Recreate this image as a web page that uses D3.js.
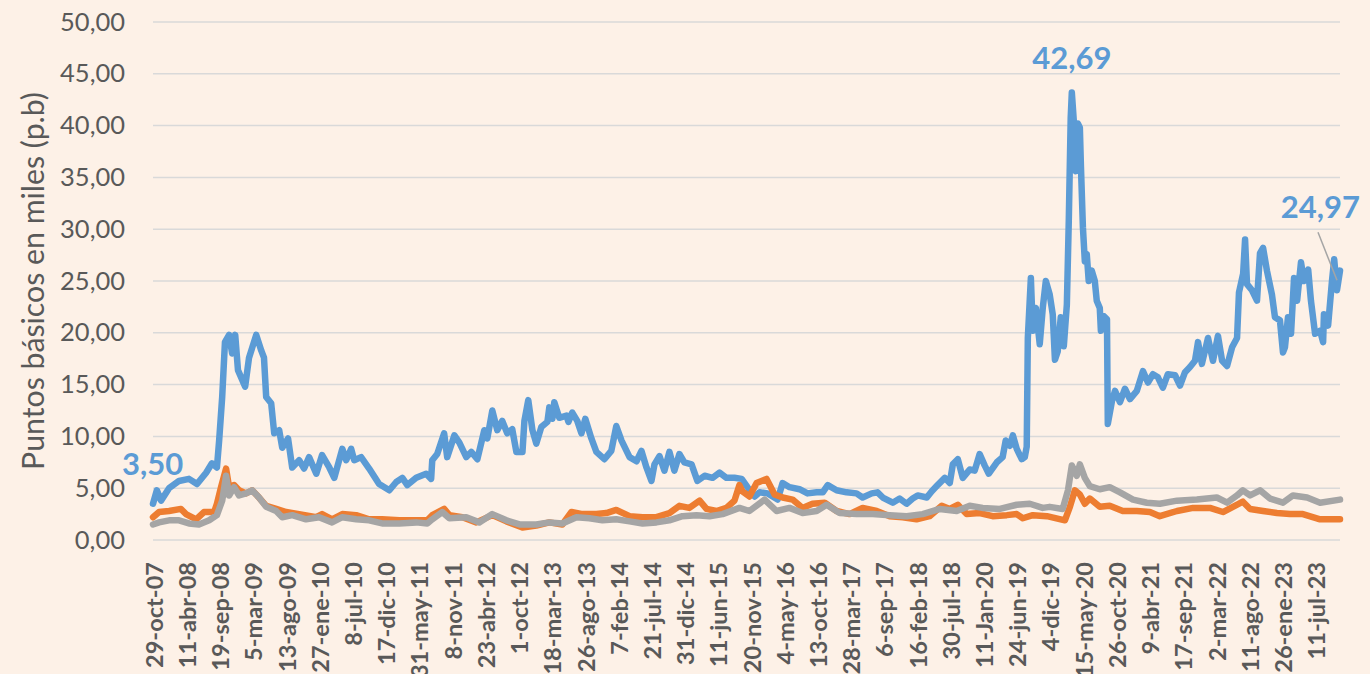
<!DOCTYPE html>
<html>
<head>
<meta charset="utf-8">
<script src="https://cdn.jsdelivr.net/npm/d3@7"></script>
<style>
  html, body { margin: 0; padding: 0; background: #fdf1e7; }
  #app { width: 1370px; height: 674px; }
  text { font-family: Lato, "Liberation Sans", sans-serif; }
</style>
</head>
<body>
<div id="app"></div>
<script>
// etiquetas del eje X (una cada 120 observaciones)
const tickLabels = [
  '29-oct-07', '11-abr-08', '19-sep-08', '5-mar-09', '13-ago-09', '27-ene-10',
  '8-jul-10', '17-dic-10', '31-may-11', '8-nov-11', '23-abr-12', '1-oct-12',
  '18-mar-13', '26-ago-13', '7-feb-14', '21-jul-14', '31-dic-14', '11-jun-15',
  '20-nov-15', '4-may-16', '13-oct-16', '28-mar-17', '6-sep-17', '16-feb-18',
  '30-jul-18', '11-Jan-20', '24-jun-19', '4-dic-19', '15-may-20', '26-oct-20',
  '9-abr-21', '17-sep-21', '2-mar-22', '11-ago-22', '26-ene-23', '11-jul-23'
];
const obsPerLabel = 120;
const lastObs = 4289;

const yTicks = [0, 5, 10, 15, 20, 25, 30, 35, 40, 45, 50];

// [observación, miles de p.b.]
const serieAzul = [
  [0,3.5],[14,4.8],[29,3.8],[58,5.0],[94,5.7],[130,5.9],[159,5.4],[192,6.5],[213,7.4],[231,7.0],
  [239,9.6],[250,13.8],[260,19.1],[275,19.8],[286,18.0],[297,19.8],[307,16.4],[333,14.8],[347,17.6],[373,19.8],
  [391,18.3],[401,17.6],[409,13.8],[427,13.2],[438,10.3],[456,10.6],[467,8.9],[488,9.8],[503,7.0],[528,7.7],
  [546,6.9],[564,8.0],[590,6.4],[611,8.2],[637,7.0],[655,6.0],[684,8.8],[698,7.7],[716,8.8],[727,7.7],
  [752,8.0],[781,6.9],[817,5.4],[854,4.8],[879,5.6],[901,6.0],[919,5.3],[951,6.0],[987,6.4],[1005,5.9],
  [1009,7.7],[1027,8.3],[1052,10.3],[1063,8.0],[1089,10.1],[1107,9.4],[1132,8.0],[1150,8.5],[1172,7.8],[1197,10.6],
  [1208,9.8],[1226,12.5],[1244,10.6],[1262,11.5],[1280,10.3],[1298,10.7],[1313,8.5],[1335,8.5],[1342,11.5],[1356,13.5],
  [1371,10.6],[1385,9.3],[1403,10.9],[1425,11.4],[1432,12.8],[1443,11.7],[1450,13.3],[1468,11.8],[1494,12.0],[1501,11.4],
  [1515,12.3],[1533,11.5],[1548,10.3],[1562,11.7],[1584,9.8],[1602,8.5],[1631,7.8],[1656,8.6],[1674,11.0],[1693,9.6],
  [1722,8.0],[1747,7.6],[1765,8.6],[1783,7.0],[1801,5.7],[1812,7.3],[1830,8.1],[1848,6.7],[1866,8.5],[1884,6.7],
  [1902,8.3],[1920,7.5],[1946,7.3],[1967,5.7],[1993,6.2],[2022,6.0],[2047,6.5],[2072,6.0],[2101,6.0],[2127,5.9],
  [2148,5.1],[2174,4.2],[2192,4.6],[2221,4.5],[2257,3.9],[2275,5.5],[2300,5.1],[2336,4.9],[2365,4.5],[2398,4.6],
  [2420,4.6],[2438,5.3],[2470,4.8],[2506,4.6],[2542,4.5],[2564,4.1],[2597,4.5],[2618,4.6],[2637,4.1],[2673,3.6],
  [2698,4.0],[2723,3.5],[2745,4.0],[2763,4.3],[2796,4.1],[2814,4.7],[2835,5.3],[2861,6.0],[2879,5.5],[2890,7.3],
  [2908,7.8],[2926,6.0],[2951,6.8],[2969,6.7],[2987,8.3],[3005,7.2],[3020,6.4],[3049,7.5],[3070,8.0],[3081,9.6],
  [3096,9.1],[3107,10.1],[3121,8.8],[3139,7.8],[3150,8.0],[3157,9.0],[3161,19.5],[3172,25.3],[3179,20.2],[3190,22.4],
  [3204,18.9],[3215,22.4],[3226,25.0],[3240,23.7],[3251,21.8],[3259,17.4],[3269,18.2],[3280,21.5],[3291,18.7],[3302,22.7],
  [3309,30.8],[3316,40.8],[3320,43.2],[3327,40.5],[3334,35.6],[3342,40.2],[3349,39.8],[3353,36.0],[3360,30.2],[3367,26.9],
  [3374,27.6],[3381,25.0],[3392,26.0],[3403,25.0],[3410,23.1],[3421,22.4],[3425,20.2],[3436,21.6],[3447,21.3],[3450,11.2],
  [3465,13.4],[3476,14.4],[3494,13.3],[3512,14.6],[3530,13.6],[3555,14.4],[3577,16.3],[3595,15.2],[3613,16.0],[3631,15.7],
  [3649,14.7],[3667,16.0],[3693,15.9],[3711,14.9],[3729,16.2],[3747,16.7],[3765,17.3],[3776,19.1],[3790,17.0],[3812,19.5],
  [3830,17.3],[3848,19.7],[3863,17.3],[3881,16.8],[3899,18.6],[3917,19.5],[3924,23.9],[3939,25.7],[3946,29.0],[3953,24.7],
  [3971,24.1],[3989,23.1],[4000,27.7],[4011,28.2],[4025,26.0],[4043,23.7],[4054,21.5],[4072,21.2],[4083,18.1],[4090,18.6],
  [4101,21.5],[4112,19.9],[4123,25.3],[4134,23.1],[4148,26.8],[4159,25.0],[4174,26.1],[4184,23.1],[4199,19.9],[4217,20.2],
  [4228,19.1],[4231,21.8],[4246,20.7],[4260,25.0],[4268,27.1],[4278,24.1],[4289,26.0]
];

const serieNaranja = [
  [0,2.2],[22,2.7],[58,2.8],[101,3.0],[119,2.5],[156,2.0],[184,2.7],[221,2.7],[231,3.5],[246,5.1],
  [264,6.9],[275,5.1],[293,5.3],[311,4.8],[336,4.5],[358,4.8],[383,4.1],[409,3.3],[445,3.0],[481,2.7],
  [528,2.5],[590,2.2],[611,2.5],[647,2.0],[684,2.5],[734,2.4],[781,2.0],[828,2.0],[890,1.9],[951,1.9],
  [991,1.9],[1009,2.4],[1052,3.0],[1071,2.4],[1118,2.2],[1168,1.7],[1226,2.4],[1277,1.8],[1335,1.2],[1385,1.4],
  [1432,1.7],[1479,1.5],[1512,2.7],[1552,2.5],[1602,2.5],[1638,2.6],[1674,2.9],[1722,2.3],[1769,2.2],[1819,2.2],
  [1866,2.6],[1902,3.3],[1938,3.1],[1975,3.8],[2000,3.0],[2036,2.8],[2072,3.1],[2101,3.8],[2119,5.3],[2130,4.7],
  [2155,4.2],[2181,5.5],[2217,5.9],[2246,4.4],[2275,4.1],[2311,3.9],[2347,3.1],[2383,3.5],[2427,3.6],[2470,2.8],
  [2517,2.5],[2564,3.1],[2615,2.8],[2662,2.3],[2709,2.2],[2759,2.0],[2806,2.3],[2850,3.3],[2879,3.0],[2908,3.4],
  [2940,2.5],[2987,2.6],[3034,2.3],[3085,2.4],[3121,2.5],[3143,2.1],[3179,2.4],[3230,2.3],[3295,1.9],[3313,3.2],
  [3331,4.8],[3349,4.4],[3367,3.5],[3385,4.0],[3421,3.2],[3457,3.3],[3504,2.8],[3555,2.8],[3602,2.7],[3638,2.3],
  [3700,2.8],[3758,3.1],[3819,3.1],[3866,2.7],[3902,3.2],[3938,3.7],[3964,3.0],[4011,2.8],[4061,2.6],[4108,2.5],
  [4155,2.5],[4217,2.0],[4289,2.0]
];

const serieGris = [
  [0,1.5],[22,1.7],[58,1.9],[94,1.9],[130,1.6],[166,1.5],[203,1.9],[231,2.4],[250,3.8],[264,6.2],
  [275,4.3],[293,5.1],[311,4.3],[336,4.5],[358,4.8],[383,4.1],[409,3.2],[445,2.8],[467,2.2],[503,2.4],
  [553,2.0],[600,2.2],[647,1.7],[684,2.2],[734,2.0],[781,1.9],[828,1.6],[890,1.6],[951,1.7],[991,1.6],
  [1009,2.0],[1045,2.7],[1071,2.1],[1132,2.2],[1179,1.7],[1226,2.5],[1277,1.9],[1324,1.5],[1385,1.5],[1432,1.7],
  [1479,1.6],[1530,2.2],[1577,2.1],[1624,1.9],[1674,2.0],[1722,1.8],[1769,1.6],[1819,1.7],[1866,1.9],[1913,2.3],
  [1964,2.4],[2011,2.3],[2058,2.5],[2119,3.1],[2155,2.8],[2210,3.9],[2253,2.8],[2300,3.1],[2347,2.6],[2398,2.8],
  [2434,3.4],[2481,2.6],[2542,2.5],[2600,2.5],[2662,2.4],[2723,2.3],[2781,2.5],[2843,3.0],[2904,2.8],[2951,3.3],
  [2998,3.1],[3060,3.0],[3121,3.4],[3168,3.5],[3215,3.1],[3240,3.2],[3287,3.0],[3306,4.8],[3320,7.2],[3338,6.2],
  [3349,7.3],[3367,6.0],[3385,5.2],[3421,4.9],[3457,5.1],[3494,4.6],[3541,3.9],[3591,3.6],[3638,3.5],[3700,3.8],
  [3772,3.9],[3844,4.1],[3881,3.6],[3917,4.3],[3938,4.8],[3964,4.3],[4000,4.8],[4036,4.0],[4083,3.6],[4119,4.3],
  [4170,4.1],[4217,3.6],[4289,3.9]
];

// anotaciones: [observación, valor, texto]
const notaInicio = [0, 3.50, '3,50'];
const notaMaximo = [3320, 42.69, '42,69'];
const notaFinal = [4289, 24.97, '24,97'];

// ajusta el tamaño de letra para que el texto mida lo que mide en el original
function fitFont(sel, sample, target) {
  const probe = sel.append('text').attr('font-size', 100).text(sample);
  const size = 100 * target / probe.node().getComputedTextLength();
  probe.remove();
  return size;
}

function render() {
  const width = 1370;
  const height = 674;
  const margin = { left: 153, right: 30, top: 22, bottom: 134 };

  const svg = d3.select('#app')
    .append('svg')
    .attr('width', width)
    .attr('height', height);

  svg.append('rect')
    .attr('width', width)
    .attr('height', height)
    .attr('fill', '#fdf1e7');

  const x = d3.scaleLinear()
    .domain([0, lastObs])
    .range([margin.left, width - margin.right]);

  const y = d3.scaleLinear()
    .domain([0, 50])
    .range([height - margin.bottom, margin.top]);

  const tickSize = fitFont(svg, '50,00', 65);
  const titleSize = fitFont(svg, 'Puntos básicos en miles (p.b)', 378);
  const probeBold = svg.append('g').attr('font-weight', 'bold');
  const xLabelSize = fitFont(probeBold, '29-oct-07', 106);
  probeBold.remove();

  // rejilla horizontal
  svg.append('g')
    .selectAll('line')
    .data(yTicks)
    .join('line')
    .attr('x1', x(0))
    .attr('x2', x(lastObs))
    .attr('y1', d => y(d))
    .attr('y2', d => y(d))
    .attr('stroke', '#d9d9d9')
    .attr('stroke-width', 1.5);

  // eje Y
  const fmt = d3.format('.2f');
  const yAxis = svg.append('g')
    .attr('transform', `translate(${x(0) - 25},0)`)
    .call(d3.axisLeft(y).tickValues(yTicks).tickSize(0).tickFormat(d => fmt(d).replace('.', ',')));
  yAxis.select('.domain').remove();
  yAxis.selectAll('text')
    .attr('font-family', 'Lato, sans-serif')
    .attr('font-size', tickSize)
    .attr('fill', '#595959');

  svg.append('text')
    .attr('transform', `translate(44, ${(y(0) + y(50)) / 2}) rotate(-90)`)
    .attr('text-anchor', 'middle')
    .attr('font-size', titleSize)
    .attr('fill', '#595959')
    .text('Puntos básicos en miles (p.b)');

  // eje X
  const xTickValues = tickLabels.map((d, i) => i * obsPerLabel);
  const xAxis = svg.append('g')
    .attr('transform', `translate(0, ${y(0)})`)
    .call(d3.axisBottom(x).tickValues(xTickValues).tickSize(0)
      .tickFormat((d, i) => tickLabels[i]));
  xAxis.select('.domain').remove();
  xAxis.selectAll('text')
    .attr('font-family', 'Lato, sans-serif')
    .attr('font-size', xLabelSize)
    .attr('font-weight', 'bold')
    .attr('fill', '#595959')
    .attr('text-anchor', 'end')
    .attr('transform', 'rotate(-90)')
    .attr('x', -22)
    .attr('y', 1)
    .attr('dy', '0.35em');

  // series
  const line = d3.line()
    .x(d => x(d[0]))
    .y(d => y(d[1]));

  const series = [
    { data: serieAzul, color: '#5b9bd5' },
    { data: serieNaranja, color: '#ed7d31' },
    { data: serieGris, color: '#a5a5a5' }
  ];

  svg.append('g')
    .selectAll('path')
    .data(series)
    .join('path')
    .attr('d', d => line(d.data))
    .attr('fill', 'none')
    .attr('stroke', d => d.color)
    .attr('stroke-width', 6.5)
    .attr('stroke-linejoin', 'round')
    .attr('stroke-linecap', 'round');

  // anotaciones
  const labelStyle = sel => sel
    .attr('font-size', 31)
    .attr('font-weight', 'bold')
    .attr('fill', '#5b9bd5');

  svg.append('text')
    .attr('x', x(notaInicio[0]) - 31)
    .attr('y', y(notaInicio[1]) - 29)
    .attr('text-anchor', 'start')
    .call(labelStyle)
    .text(notaInicio[2]);

  svg.append('text')
    .attr('x', x(notaMaximo[0]))
    .attr('y', y(notaMaximo[1]) - 29)
    .attr('text-anchor', 'middle')
    .call(labelStyle)
    .text(notaMaximo[2]);

  // línea guía del último valor
  svg.append('line')
    .attr('x1', x(notaFinal[0]) - 22)
    .attr('y1', y(notaFinal[1]) - 49)
    .attr('x2', x(notaFinal[0]) - 3)
    .attr('y2', y(notaFinal[1]) - 1)
    .attr('stroke', '#a5a5a5')
    .attr('stroke-width', 1.5);

  svg.append('text')
    .attr('x', x(notaFinal[0]) + 20)
    .attr('y', y(notaFinal[1]) - 63)
    .attr('text-anchor', 'end')
    .call(labelStyle)
    .text(notaFinal[2]);
}

render();
</script>
</body>
</html>
